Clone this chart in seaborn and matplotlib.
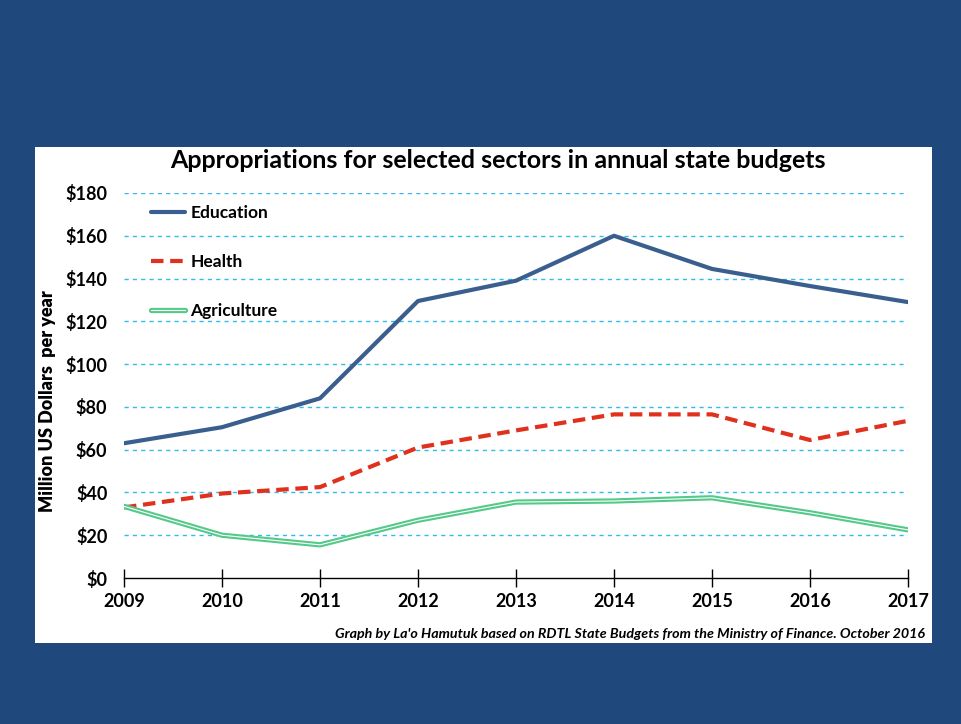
import numpy as np
import pandas as pd
import matplotlib
matplotlib.use("Agg")
import matplotlib.pyplot as plt
import matplotlib.patheffects as pe
from matplotlib.patches import Rectangle
import seaborn as sns

years = [2009, 2010, 2011, 2012, 2013, 2014, 2015, 2016, 2017]
education = [63, 70.5, 84, 129.5, 139, 160, 144.5, 136.5, 129]
health = [33, 39.5, 42.5, 61, 69, 76.5, 76.5, 64.5, 73.5]
agriculture = [33.5, 20, 15.5, 27, 35.5, 36, 37.5, 30.5, 22.5]
y_ticks = [0, 20, 40, 60, 80, 100, 120, 140, 160, 180]

BG = "#1F497D"
GRID = "#33BBEE"

sns.set_theme(style="white")
plt.rcParams["font.family"] = ["Lato", "DejaVu Sans"]
plt.rcParams["text.color"] = "black"
plt.rcParams["axes.labelcolor"] = "black"
plt.rcParams["xtick.color"] = "black"
plt.rcParams["ytick.color"] = "black"

df = pd.DataFrame({"year": years, "Education": education,
                   "Health": health, "Agriculture": agriculture})

fig = plt.figure(figsize=(9.61, 7.24), dpi=100, facecolor=BG)
fig.patches.append(Rectangle((35 / 961, 1 - 643 / 724), (932 - 35) / 961, (643 - 147) / 724,
                             transform=fig.transFigure, facecolor="white", edgecolor="none", zorder=0))
ax = fig.add_axes([124 / 961, 1 - 578 / 724, (908 - 124) / 961, (578 - 193) / 724])
ax.set_zorder(2)
ax.set_facecolor("none")

for y in y_ticks[1:]:
    ax.axhline(y, color=GRID, lw=1, ls=(0, (3, 3)), zorder=1)

sns.lineplot(data=df, x="year", y="Education", ax=ax, color="#3A5F8E", lw=3,
             label="Education", zorder=3)
sns.lineplot(data=df, x="year", y="Health", ax=ax, color="#E0301E", lw=3,
             label="Health", zorder=3)
agri = sns.lineplot(data=df, x="year", y="Agriculture", ax=ax, color="white", lw=0.8,
                    label="Agriculture", zorder=3)
agri.lines[-1].set_path_effects([pe.Stroke(linewidth=3.8, foreground="#55C98A"), pe.Normal()])
ax.lines[-2].set_linestyle((0, (3, 1.6)))

ax.set_xlim(2009, 2017)
ax.set_ylim(0, 180)
ax.set_xticks(years)
ax.set_yticks(y_ticks)
ax.set_yticklabels([f"${v}" for v in y_ticks])
ax.tick_params(axis="y", length=0, pad=12, labelsize=13)
ax.tick_params(axis="x", direction="inout", length=13, width=1, color="black",
               bottom=True, pad=4, labelsize=13)
for lbl in ax.get_xticklabels() + ax.get_yticklabels():
    lbl.set_fontweight("bold")
for s in ["top", "right", "left"]:
    ax.spines[s].set_visible(False)
ax.spines["bottom"].set_color("black")
ax.spines["bottom"].set_linewidth(1)
ax.grid(False)
ax.set_xlabel("")
ax.set_ylabel("Million US Dollars  per year", fontsize=13, fontweight="heavy")
ax.yaxis.set_label_coords(-0.087, 0.46)

leg = ax.legend(loc="upper left", bbox_to_anchor=(0.014, 1.01), frameon=False,
                handlelength=2.0, handletextpad=0.3, labelspacing=1.9,
                prop={"weight": "bold", "size": 12.5})

fig.text(498 / 961, 1 - 161 / 724, "Appropriations for selected sectors in annual state budgets",
         ha="center", va="center", fontsize=18, fontweight="bold")
fig.text(925 / 961, 1 - 634 / 724,
         "Graph by La'o Hamutuk based on RDTL State Budgets from the Ministry of Finance. October 2016",
         ha="right", va="center", fontsize=10.3, fontweight="bold", style="italic")

fig.savefig("out.png", dpi=100, facecolor=BG)
